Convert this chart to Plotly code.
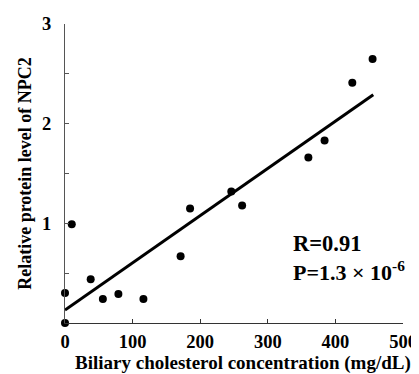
import plotly.graph_objects as go

chol = [0, 0, 10, 38, 56, 79, 116, 171, 185, 246, 262, 360, 384, 425, 455]
npc2 = [0.30, 0.0, 0.99, 0.44, 0.24, 0.29, 0.24, 0.67, 1.15, 1.32, 1.18, 1.66, 1.83, 2.41, 2.65]
fit_x = [0, 456]
fit_y = [0.13, 2.29]
y_ticks = [1, 2, 3]
y_labels = ["1", "2", "3"]
y_minor = [0.5, 1.5, 2.5]
x_ticks = [0, 100, 200, 300, 400, 500]
x_labels = ["0", "100", "200", "300", "400", "500"]

font = "Liberation Serif"

fig = go.Figure()
fig.add_trace(go.Scatter(x=fit_x, y=fit_y, mode="lines",
                         line=dict(color="black", width=3), cliponaxis=False))
fig.add_trace(go.Scatter(x=chol, y=npc2, mode="markers",
                         marker=dict(color="black", size=8), cliponaxis=False))

fig.update_layout(
    width=411, height=366,
    margin=dict(l=57, r=16, t=16, b=51),
    plot_bgcolor="white", paper_bgcolor="white",
    showlegend=False,
    font=dict(family=font, color="black"),
    xaxis=dict(range=[0, 500], tickvals=x_ticks, ticktext=[f"<b>{t}</b>" for t in x_labels],
               showgrid=False, zeroline=False, automargin=False,
               showline=True, linecolor="#333", linewidth=1.2,
               ticks="inside", ticklen=4, tickcolor="#333", ticklabelstandoff=2,
               tickfont=dict(family=font, size=18.5, color="black")),
    yaxis=dict(range=[0, 3], tickvals=y_ticks, ticktext=[f"<b>{t}</b>" for t in y_labels],
               showgrid=False, automargin=False,
               zeroline=False, showline=True, linecolor="#555", linewidth=1.2,
               ticks="inside", ticklen=4, tickcolor="#555", ticklabelstandoff=9,
               minor=dict(tickvals=y_minor, ticks="inside", ticklen=4, tickcolor="#555",
                          tickwidth=1, showgrid=False),
               tickfont=dict(family=font, size=18.5, color="black"),
               title=dict(text="<b>Relative protein level of NPC2</b>",
                          font=dict(family=font, size=18), standoff=5)),
)
fig.add_annotation(x=0.528, y=-0.133, xref="paper", yref="paper", xanchor="center",
                   yanchor="middle", text="<b>Biliary cholesterol concentration (mg/dL)</b>",
                   showarrow=False, font=dict(family=font, size=19, color="black"))
fig.add_annotation(x=0.67, y=0.218, xref="paper", yref="paper", xanchor="left",
                   text="<b>R=0.91</b>", showarrow=False,
                   font=dict(family=font, size=22.5, color="black"))
fig.add_annotation(x=0.67, y=0.12, xref="paper", yref="paper", xanchor="left",
                   text="<b>P=1.3 × 10<sup>-6</sup></b>", showarrow=False,
                   font=dict(family=font, size=22, color="black"))
fig.write_html("out.html")
